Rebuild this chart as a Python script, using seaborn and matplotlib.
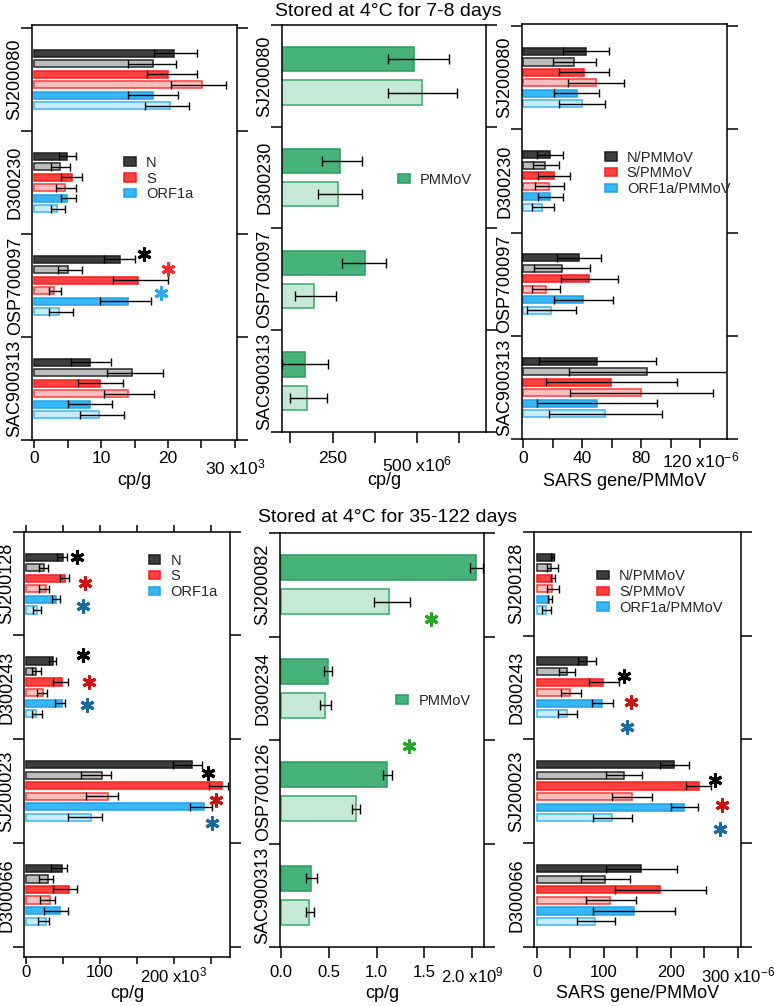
import numpy as np
import pandas as pd
import seaborn as sns
import matplotlib.pyplot as plt
from matplotlib.patches import Patch
from matplotlib.transforms import ScaledTranslation

sns.set_theme(style="white")
plt.rcParams["font.family"] = ["Liberation Sans", "DejaVu Sans"]
plt.rcParams["mathtext.default"] = "regular"

# ---- data ----
genes = ["N", "N stored", "S", "S stored", "ORF1a", "ORF1a stored"]
ratios = ["N/PMMoV", "N/PMMoV stored", "S/PMMoV", "S/PMMoV stored",
          "ORF1a/PMMoV", "ORF1a/PMMoV stored"]
pmmov = ["PMMoV", "PMMoV stored"]

top_samples = ["SJ200080", "D300230", "OSP700097", "SAC900313"]
bot_samples = ["SJ200128", "D300243", "SJ200023", "D300066"]
bot_pmmov_samples = ["SJ200082", "D300234", "OSP700126", "SAC900313"]

# 7-8 days, SARS genes, cp/g x10^3 (bar value, error low end, error high end)
top_cpg = [[20.9, 17.7, 20.0, 25.1, 17.7, 20.3],
           [4.95, 3.9, 5.6, 4.7, 4.95, 3.5],
           [12.9, 5.1, 15.5, 3.0, 14.0, 3.7],
           [8.4, 14.6, 9.9, 14.0, 8.4, 9.7]]
top_cpg_lo = [[17.9, 14.0, 16.8, 20.5, 14.1, 16.6],
              [3.8, 2.6, 4.1, 3.3, 4.1, 2.5],
              [10.4, 3.6, 11.8, 2.2, 9.8, 2.2],
              [5.5, 10.9, 6.6, 10.5, 5.1, 6.8]]
top_cpg_hi = [[24.3, 21.2, 24.4, 28.7, 21.5, 23.1],
              [6.2, 5.3, 7.1, 6.2, 6.2, 4.6],
              [15.1, 7.2, 20.0, 4.0, 17.4, 5.8],
              [11.5, 19.2, 13.3, 17.9, 11.7, 13.4]]

# 7-8 days, PMMoV cp/g x10^6
top_pm = [[492, 514], [272, 265], [346, 196], [167, 174]]
top_pm_lo = [[415, 415], [220, 208], [277, 138], [99, 124]]
top_pm_hi = [[595, 618], [336, 336], [408, 260], [237, 232]]

# 7-8 days, SARS gene/PMMoV x10^-6
top_ratio = [[42.5, 34.3, 40.9, 49.0, 36.2, 39.5],
             [18.1, 14.9, 21.0, 17.6, 18.1, 12.9],
             [37.7, 26.0, 44.7, 15.1, 40.5, 18.8],
             [49.9, 83.8, 59.4, 80.0, 50.2, 55.4]]
top_ratio_lo = [[27.1, 19.9, 24.2, 30.5, 21.0, 24.4],
                [9.5, 6.3, 10.2, 7.7, 9.7, 5.6],
                [22.6, 7.2, 25.3, 5.6, 20.6, 2.3],
                [10.6, 31.2, 15.1, 31.6, 9.5, 17.4]]
top_ratio_hi = [[58.3, 49.5, 57.9, 68.5, 51.3, 55.1],
                [27.1, 24.4, 31.9, 27.8, 26.7, 20.6],
                [52.9, 45.0, 64.4, 25.1, 60.8, 35.7],
                [89.7, 140.0, 104.0, 128.8, 90.6, 94.2]]

# 35-122 days, SARS genes, cp/g x10^3
bot_cpg = [[50.5, 24.8, 53.2, 26.6, 40.5, 15.3],
           [36.0, 13.5, 49.1, 23.4, 48.2, 13.5],
           [224.8, 102.3, 264.4, 111.3, 241.0, 87.8],
           [48.6, 29.3, 57.7, 32.4, 45.9, 26.6]]
bot_cpg_lo = [[42.3, 18.0, 46.0, 18.0, 34.7, 9.9],
              [30.6, 8.1, 36.9, 15.3, 39.2, 7.7],
              [199.1, 74.3, 247.3, 81.1, 221.6, 57.2],
              [33.8, 18.0, 36.0, 19.4, 24.8, 16.7]]
bot_cpg_hi = [[55.0, 30.2, 57.7, 31.5, 46.0, 20.7],
              [40.5, 20.7, 56.8, 28.8, 53.2, 21.6],
              [237.8, 114.9, 273.4, 123.9, 251.8, 103.2],
              [55.9, 36.9, 68.5, 39.6, 56.3, 31.5]]

# 35-122 days, PMMoV cp/g x10^9
bot_pm = [[2.04, 1.13], [0.488, 0.46], [1.105, 0.785], [0.31, 0.293]]
bot_pm_lo = [[1.977, 0.976], [0.453, 0.411], [1.07, 0.746], [0.262, 0.258]]
bot_pm_hi = [[2.116, 1.353], [0.537, 0.523], [1.164, 0.83], [0.373, 0.342]]

# 35-122 days, SARS gene/PMMoV x10^-6
bot_ratio = [[24.9, 21.9, 23.4, 23.4, 18.9, 13.9],
             [74.6, 44.8, 99.5, 50.2, 98.0, 45.8],
             [204.5, 130.3, 241.3, 141.8, 219.9, 112.9],
             [155.2, 101.5, 184.1, 109.5, 145.3, 87.6]]
bot_ratio_lo = [[20.9, 14.9, 22.0, 14.9, 17.4, 8.5],
                [62.2, 33.3, 78.1, 35.8, 82.6, 31.3],
                [183.1, 103.5, 222.4, 112.9, 200.5, 84.6],
                [103.5, 66.2, 116.9, 73.1, 84.6, 59.7]]
bot_ratio_hi = [[25.5, 31.3, 27.0, 33.3, 23.4, 20.9],
                [88.6, 57.2, 122.4, 66.7, 114.4, 60.7],
                [226.4, 157.2, 259.7, 172.1, 239.8, 141.3],
                [209.0, 139.3, 252.2, 147.8, 206.5, 116.4]]

# significance stars: (x value, y position in category units, colour)
stars_a = [(16.4, 1.69, "black"), (19.95, 1.84, "#ff2a2a"), (19.0, 2.07, "#29aaf0")]
stars_d = [(69.4, -0.26, "black"), (80.2, -0.01, "#cc1111"), (76.6, 0.22, "#1a6a9c"),
           (76.6, 0.69, "black"), (85.6, 0.95, "#cc1111"), (82.0, 1.17, "#1a6a9c"),
           (245.5, 1.83, "black"), (256.8, 2.09, "#cc1111"), (250.9, 2.31, "#1a6a9c")]
stars_e = [(1.569, 0.33, "#22a822"), (1.339, 1.56, "#22a822")]
stars_f = [(129.4, 0.89, "black"), (140.3, 1.14, "#cc1111"), (135.3, 1.38, "#1a6a9c"),
           (266.2, 1.89, "black"), (276.1, 2.13, "#cc1111"), (272.6, 2.36, "#1a6a9c")]

# ---- styles ----
gene_fill = ["#3d3d3d", "#bcbcbc", "#ff4141", "#ffbdbd", "#36b7f7", "#c9ecfc"]
gene_edge = ["#1e1e1e", "#2a2a2a", "#ff1c1c", "#ff3a3a", "#22a2e6", "#3cb5f2"]
pm_fill = ["#47b27a", "#c6e9d5"]
pm_edge = ["#2a9b5d", "#38ab69"]

W, H = 775, 1006
fig = plt.figure(figsize=(W / 100, H / 100), dpi=100)


def axes_px(left, top, right, bottom):
    return fig.add_axes([left / W, 1 - bottom / H, (right - left) / W, (bottom - top) / H])


def draw(ax, samples, names, fills, edges, vals, lo, hi, width, gap, cap):
    rows = [(s, n, vals[i][j]) for i, s in enumerate(samples) for j, n in enumerate(names)]
    df = pd.DataFrame(rows, columns=["sample", "series", "value"])
    sns.barplot(data=df, y="sample", x="value", hue="series", order=samples,
                hue_order=names, palette=fills, saturation=1, width=width, gap=gap,
                errorbar=None, legend=False, linewidth=1.1, ax=ax)
    for j, cont in enumerate(list(ax.containers)):
        ys, xs, el, eh = [], [], [], []
        for i, p in enumerate(cont.patches):
            p.set_edgecolor(edges[j])
            ys.append(p.get_y() + p.get_height() / 2)
            xs.append(vals[i][j])
            el.append(vals[i][j] - lo[i][j])
            eh.append(hi[i][j] - vals[i][j])
        ax.errorbar(xs, ys, xerr=[el, eh], fmt="none", ecolor="black",
                    elinewidth=1.0, capsize=cap, capthick=1.0, zorder=3)


def style(ax, samples, xlim, ylim, major, labels, minor, xlabel, label_y,
          tick_len, pad, size, top_ticks=False):
    ax.set_xlim(*xlim)
    ax.set_ylim(*ylim)
    ax.set_yticks([-0.5, 0.5, 1.5, 2.5, 3.5])
    ax.set_yticks(range(len(samples)), labels=samples, minor=True)
    ax.tick_params(axis="y", which="major", left=True, right=True, length=8, width=1.1,
                   direction="out", labelleft=False, color="black")
    ax.tick_params(axis="y", which="minor", left=False, length=0, labelsize=13,
                   labelrotation=90, pad=6, labelcolor="black")
    for lab in ax.get_yticklabels(minor=True):
        lab.set_va("center")
    ax.set_xticks(major, labels=labels)
    ax.set_xticks(minor, minor=True)
    ax.tick_params(axis="x", which="major", bottom=True, top=top_ticks, length=tick_len,
                   width=1.1, direction="out", labelsize=size, pad=pad, labelcolor="black",
                   color="black")
    ax.tick_params(axis="x", which="minor", bottom=True, top=top_ticks, length=tick_len,
                   width=1.1, direction="out", color="black")
    ax.set_ylabel("")
    ax.set_xlabel(xlabel, fontsize=13, color="black")
    ax.xaxis.set_label_coords(0.5, label_y)
    for sp in ax.spines.values():
        sp.set_color("black")
        sp.set_linewidth(1.1)


def drop_last_label(ax, px):
    # Igor-style exponent label sits a little lower than the other tick labels
    lab = ax.xaxis.get_major_ticks()[-1].label1
    lab.set_transform(lab.get_transform() + ScaledTranslation(0, -px / 100, fig.dpi_scale_trans))


def legend(ax, labels, fills, edges, x, y):
    handles = [Patch(facecolor=f, edgecolor=e, linewidth=1.1, label=l)
               for l, f, e in zip(labels, fills, edges)]
    ax.legend(handles=handles, loc="center left", bbox_to_anchor=(x, y), frameon=False,
              fontsize=10.5, handlelength=0.8, handleheight=0.5, handletextpad=0.7,
              labelspacing=0.12, borderpad=0, borderaxespad=0)


def stars(ax, pts):
    for x, y, c in pts:
        ax.plot(x, y, marker=(6, 2, 0), ms=10, mew=2.2, color=c, zorder=4, clip_on=False)


# ---- row 1 ----
ax_a = axes_px(32, 25, 237, 440)
draw(ax_a, top_samples, genes, gene_fill, gene_edge, top_cpg, top_cpg_lo, top_cpg_hi,
     0.61, 0.32, 2.6)
style(ax_a, top_samples, (-0.3, 30.3), (3.5, -0.53), [0, 10, 20, 30],
      ["0", "10", "20", "30 x10$^3$"], [5, 15, 25], "cp/g", -0.078, 6, 2, 12.5)
legend(ax_a, ["N", "S", "ORF1a"], gene_fill[::2], gene_edge[::2], 0.45, 0.63)
stars(ax_a, stars_a)

ax_b = axes_px(281.7, 25, 486, 432)
draw(ax_b, top_samples, pmmov, pm_fill, pm_edge, top_pm, top_pm_lo, top_pm_hi,
     0.655, 0.27, 3.6)
style(ax_b, top_samples, (99, 705), (3.5, -0.5), [250, 500],
      ["250", "500 x10$^6$"], [125, 375, 625], "cp/g", -0.099, 8, 6, 12.5)
legend(ax_b, ["PMMoV"], pm_fill[:1], pm_edge[:1], 0.57, 0.62)

ax_c = axes_px(521.7, 24, 727.3, 439)
draw(ax_c, top_samples, ratios, gene_fill, gene_edge, top_ratio, top_ratio_lo, top_ratio_hi,
     0.61, 0.32, 2.6)
style(ax_c, top_samples, (-1.1, 138.3), (3.5, -0.52), [0, 40, 80, 120],
      ["0", "40", "80", "120 x10$^{-6}$"], [20, 60, 100], "SARS gene/PMMoV", -0.081,
      6.5, 2, 12.5)
legend(ax_c, ["N/PMMoV", "S/PMMoV", "ORF1a/PMMoV"], gene_fill[::2], gene_edge[::2], 0.405, 0.64)

# ---- row 2 ----
ax_d = axes_px(24, 531.7, 230, 957)
draw(ax_d, bot_samples, genes, gene_fill, gene_edge, bot_cpg, bot_cpg_lo, bot_cpg_hi,
     0.61, 0.32, 2.6)
style(ax_d, bot_samples, (-2.7, 275.7), (3.6, -0.5), [0, 100, 200],
      ["0", "100", "200 x10$^3$"], [50, 150, 250], "cp/g", -0.0658, 5, 1, 12,
      top_ticks=True)
legend(ax_d, ["N", "S", "ORF1a"], gene_fill[::2], gene_edge[::2], 0.605, 0.895)
stars(ax_d, stars_d)

ax_e = axes_px(280, 533, 484.3, 947)
draw(ax_e, bot_pmmov_samples, pmmov, pm_fill, pm_edge, bot_pm, bot_pm_lo, bot_pm_hi,
     0.66, 0.27, 3.6)
style(ax_e, bot_pmmov_samples, (-0.01, 2.127), (3.5, -0.5), [0, 0.5, 1.0, 1.5, 2.0],
      ["0.0", "0.5", "1.0", "1.5", "2.0 x10$^9$"], [], "cp/g", -0.0918, 8, 5, 12)
legend(ax_e, ["PMMoV"], pm_fill[:1], pm_edge[:1], 0.57, 0.595)
stars(ax_e, stars_e)

ax_f = axes_px(534, 531.7, 740.7, 947)
draw(ax_f, bot_samples, ratios, gene_fill, gene_edge, bot_ratio, bot_ratio_lo, bot_ratio_hi,
     0.61, 0.32, 2.6)
style(ax_f, bot_samples, (-4, 304), (3.5, -0.5), [0, 100, 200, 300],
      ["0", "100", "200", "300 x10$^{-6}$"], [50, 150, 250], "SARS gene/PMMoV", -0.0915,
      8, 5, 12)
legend(ax_f, ["N/PMMoV", "S/PMMoV", "ORF1a/PMMoV"], gene_fill[::2], gene_edge[::2], 0.305, 0.855)
stars(ax_f, stars_f)

drop_last_label(ax_a, 6)
drop_last_label(ax_b, 3)

fig.text(388 / W, 1 - 11 / H, "Stored at 4°C for 7-8 days", ha="center", va="center",
         fontsize=14, color="black")
fig.text(388 / W, 1 - 518 / H, "Stored at 4°C for 35-122 days", ha="center", va="center",
         fontsize=14, color="black")

fig.savefig("out.png", dpi=100, facecolor="white")
